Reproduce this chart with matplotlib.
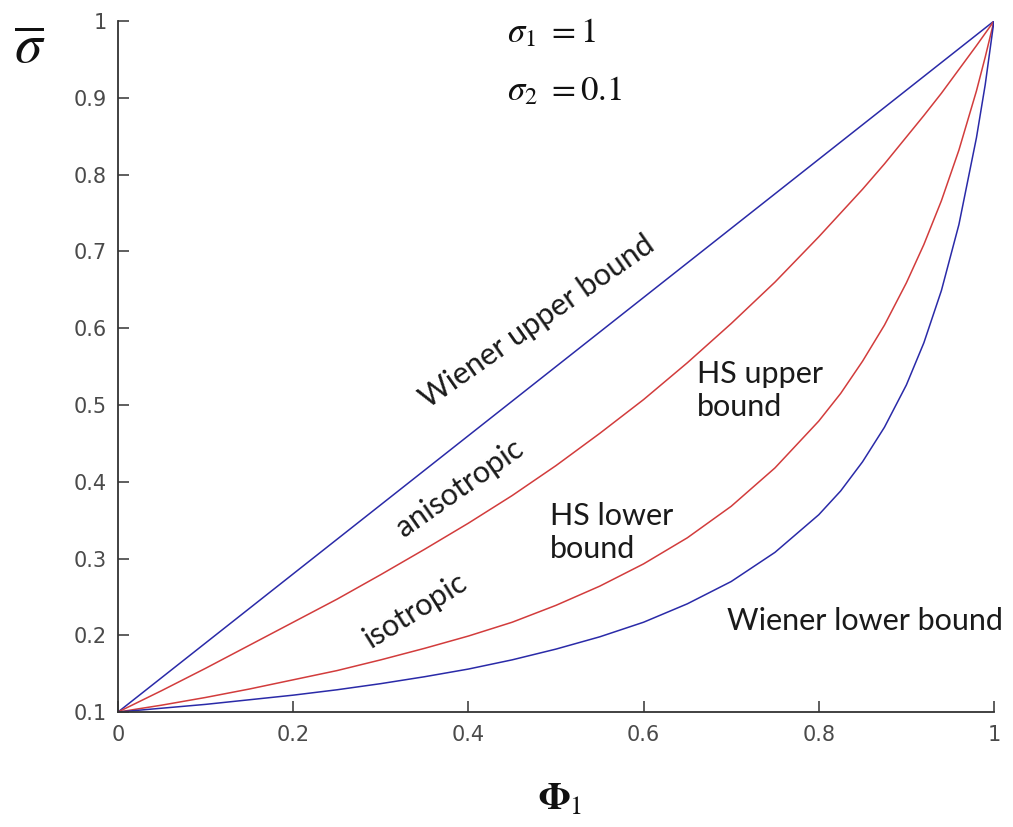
import matplotlib
matplotlib.use("Agg")
import matplotlib.pyplot as plt

plt.rcParams['mathtext.fontset'] = 'stix'

phi = [0.0, 0.05, 0.1, 0.15, 0.2, 0.25, 0.3, 0.35, 0.4, 0.45, 0.5, 0.55, 0.6, 0.65,
       0.7, 0.75, 0.8, 0.825, 0.85, 0.875, 0.9, 0.92, 0.94, 0.96, 0.98, 0.99, 1.0]
wiener_upper = [0.1, 0.145, 0.19, 0.235, 0.28, 0.325, 0.37, 0.415, 0.46, 0.505, 0.55,
                0.595, 0.64, 0.685, 0.73, 0.775, 0.82, 0.8425, 0.865, 0.8875, 0.91,
                0.928, 0.946, 0.964, 0.982, 0.991, 1.0]
hs_upper = [0.1, 0.128, 0.157, 0.187, 0.217, 0.247, 0.279, 0.312, 0.346, 0.382, 0.421,
            0.463, 0.507, 0.555, 0.606, 0.660, 0.719, 0.750, 0.781, 0.814, 0.849,
            0.877, 0.906, 0.937, 0.968, 0.984, 1.0]
hs_lower = [0.1, 0.109, 0.119, 0.130, 0.142, 0.154, 0.168, 0.183, 0.199, 0.217, 0.239,
            0.264, 0.293, 0.327, 0.368, 0.418, 0.479, 0.515, 0.557, 0.604, 0.659,
            0.709, 0.766, 0.832, 0.909, 0.953, 1.0]
wiener_lower = [0.1, 0.105, 0.110, 0.116, 0.122, 0.129, 0.137, 0.146, 0.156, 0.168,
                0.182, 0.198, 0.217, 0.241, 0.270, 0.308, 0.357, 0.388, 0.426, 0.471,
                0.526, 0.581, 0.649, 0.735, 0.848, 0.917, 1.0]

x_ticks = [0, 0.2, 0.4, 0.6, 0.8, 1.0]
x_ticklabels = ['0', '0.2', '0.4', '0.6', '0.8', '1']
y_ticks = [0.1, 0.2, 0.3, 0.4, 0.5, 0.6, 0.7, 0.8, 0.9, 1.0]
y_ticklabels = ['0.1', '0.2', '0.3', '0.4', '0.5', '0.6', '0.7', '0.8', '0.9', '1']

blue = '#2a2aa8'
red = '#d23c3c'

fig = plt.figure(figsize=(10.13, 8.27), dpi=100)
ax = fig.add_axes([0.1165, 0.139, 0.8647, 0.8355])

ax.plot(phi, wiener_upper, color=blue, lw=1.1)
ax.plot(phi, hs_upper, color=red, lw=1.1)
ax.plot(phi, hs_lower, color=red, lw=1.1)
ax.plot(phi, wiener_lower, color=blue, lw=1.1)

ax.set_xlim(0, 1)
ax.set_ylim(0.1, 1)
ax.set_xticks(x_ticks)
ax.set_xticklabels(x_ticklabels)
ax.set_yticks(y_ticks)
ax.set_yticklabels(y_ticklabels)
for s in ['top', 'right']:
    ax.spines[s].set_visible(False)
for s in ['left', 'bottom']:
    ax.spines[s].set_color('#333333')
    ax.spines[s].set_linewidth(1.3)
ax.tick_params(direction='in', length=8, width=1.1, color='#333333',
               labelsize=15, labelcolor='#4a4a4a')
ax.tick_params(axis='y', pad=8)
ax.tick_params(axis='x', pad=9)

# axis labels
fig.text(30 / 1013, 1 - 48 / 827, r'$\overline{\sigma}$', fontsize=40,
         ha='center', va='center', color='#111111')
fig.text(560 / 1013, 1 - 800 / 827, r'$\mathbf{\Phi}_1$', fontsize=27,
         ha='center', va='center', color='#111111')

# parameters
ax.text(0.444, 0.985, r'$\sigma_1\ = 1$', fontsize=25, ha='left', va='center',
        color='#111111')
ax.text(0.444, 0.910, r'$\sigma_2\ = 0.1$', fontsize=25, ha='left', va='center',
        color='#111111')

tf = dict(family=['Lato', 'DejaVu Sans'], fontsize=22, color='#1a1a1a')
ax.text(0.478, 0.608, 'Wiener upper bound', rotation=35, rotation_mode='anchor',
        ha='center', va='center', **tf)
ax.text(0.390, 0.392, 'anisotropic', rotation=35, rotation_mode='anchor',
        ha='center', va='center', **tf)
ax.text(0.339, 0.233, 'isotropic', rotation=32, rotation_mode='anchor',
        ha='center', va='center', **tf)
ax.text(0.661, 0.519, 'HS upper\nbound', ha='left', va='center',
        linespacing=1.2, **tf)
ax.text(0.493, 0.334, 'HS lower\nbound', ha='left', va='center',
        linespacing=1.2, **tf)
ax.text(0.695, 0.2185, 'Wiener lower bound', ha='left', va='center', **tf)

fig.savefig('out.png', dpi=100)
